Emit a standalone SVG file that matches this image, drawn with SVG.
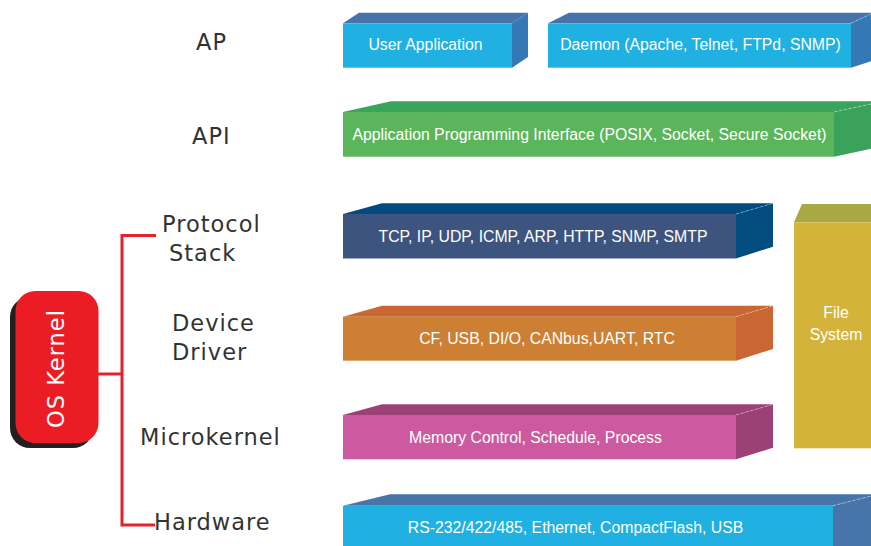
<svg xmlns="http://www.w3.org/2000/svg" width="871" height="546" viewBox="0 0 871 546">
<style>
.lbl{font-family:"DejaVu Sans",sans-serif;font-size:22.5px;letter-spacing:1px;fill:#333333}
.bt{font-family:"Liberation Sans",Arial,sans-serif;font-size:15.8px;fill:#ffffff;text-anchor:middle}
.dash{stroke:#ffffff;stroke-opacity:0.45;stroke-width:0.8;stroke-dasharray:3 2;fill:none}
.conn{stroke:#E52129;stroke-width:3;fill:none}
</style>
<rect width="871" height="546" fill="#ffffff"/>

<!-- left labels -->
<g id="label-ap"><text class="lbl" x="196" y="50">AP</text></g>
<g id="label-api"><text class="lbl" x="192" y="144">API</text></g>
<g id="label-protocol"><text class="lbl" x="162" y="232">Protocol</text><text class="lbl" x="169" y="260.5">Stack</text></g>
<g id="label-device"><text class="lbl" x="172" y="331">Device</text><text class="lbl" x="172" y="359.5">Driver</text></g>
<g id="label-microkernel"><text class="lbl" x="140" y="445">Microkernel</text></g>
<g id="label-hardware"><text class="lbl" x="154" y="530">Hardware</text></g>

<!-- OS Kernel -->
<g id="os-kernel">
<rect x="10" y="297" width="83" height="151" rx="20" fill="#231F20"/>
<rect x="15.5" y="291" width="83" height="152" rx="20" fill="#EC1C24"/>
<text x="64" y="368.5" transform="rotate(-90 64 368.5)" text-anchor="middle" style="font-family:'DejaVu Sans',sans-serif;font-size:22.5px;letter-spacing:1px;fill:#ffffff">OS Kernel</text>
</g>

<!-- connectors -->
<g id="connectors">
<polyline class="conn" points="156,235.5 122,235.5 122,525 155,525"/>
<line class="conn" x1="98" y1="374" x2="122" y2="374"/>
</g>

<!-- User Application -->
<g id="user-application">
<polygon points="343,23.3 359,12.7 528,12.7 512,23.3" fill="#4673A8"/>
<polygon points="512,23.3 528,12.7 528,57 512,67.7" fill="#3479B5"/>
<rect x="343" y="23.3" width="169" height="44.4" fill="#20B0E2"/>
<text class="bt" x="425.5" y="50">User Application</text>
</g>

<!-- Daemon -->
<g id="daemon">
<polygon points="548,23.3 569,12.7 875,12.7 875,12 851,23.3" fill="#4673A8"/>
<polygon points="851,23.3 875,12 875,60 851,67.7" fill="#3479B5"/>
<line class="dash" x1="851" y1="23.3" x2="875" y2="12"/>
<rect x="548" y="23.3" width="303" height="44.4" fill="#20B0E2"/>
<text class="bt" x="700.5" y="50">Daemon (Apache, Telnet, FTPd, SNMP)</text>
</g>

<!-- API -->
<g id="api">
<polygon points="343,112 391,101.3 875,101.3 875,103 834,112" fill="#38A55A"/>
<polygon points="834,112 875,103 875,148 834,156.7" fill="#3AA25A"/>
<line class="dash" x1="834" y1="112" x2="875" y2="103"/>
<rect x="343" y="112" width="491" height="44.7" fill="#5BB55B"/>
<text class="bt" x="589.5" y="140">Application Programming Interface (POSIX, Socket, Secure Socket)</text>
</g>

<!-- Protocol stack -->
<g id="tcp-ip">
<polygon points="343,214 382,203.3 773,203.3 736,214" fill="#014B80"/>
<polygon points="736,214 773,203.3 773,246.7 736,258.5" fill="#024C80"/>
<line class="dash" x1="736" y1="214" x2="773" y2="203.3"/>
<rect x="343" y="214" width="393" height="44.5" fill="#3D547F"/>
<text class="bt" x="543" y="242">TCP, IP, UDP, ICMP, ARP, HTTP, SNMP, SMTP</text>
</g>

<!-- Device driver -->
<g id="device-driver">
<polygon points="343,316.7 382,305.7 773,305.7 736,316.7" fill="#C96632"/>
<polygon points="736,316.7 773,305.7 773,349 736,360.7" fill="#C96632"/>
<line class="dash" x1="736" y1="316.7" x2="773" y2="305.7"/>
<rect x="343" y="316.7" width="393" height="44" fill="#CD8034"/>
<text class="bt" x="547" y="344">CF, USB, DI/O, CANbus,UART, RTC</text>
</g>

<!-- Microkernel -->
<g id="memory-control">
<polygon points="343,415 382,404.3 773,404.3 736,415" fill="#9C4177"/>
<polygon points="736,415 773,404.3 773,447.7 736,459.3" fill="#9C4177"/>
<line class="dash" x1="736" y1="415" x2="773" y2="404.3"/>
<rect x="343" y="415" width="393" height="44.3" fill="#CD5AA0"/>
<text class="bt" x="535.5" y="443">Memory Control, Schedule, Process</text>
</g>

<!-- Hardware -->
<g id="hardware">
<polygon points="343,505.7 390,494.3 875,494.3 875,495 833,505.7" fill="#4775A9"/>
<polygon points="833,505.7 875,495 875,560 833,560" fill="#4775A9"/>
<line class="dash" x1="833" y1="505.7" x2="875" y2="495"/>
<rect x="343" y="505.7" width="490" height="50" fill="#20B0E2"/>
<text class="bt" x="575.5" y="533">RS-232/422/485, Ethernet, CompactFlash, USB</text>
</g>

<!-- File System -->
<g id="file-system">
<polygon points="794,222.3 802,204 875,204 875,222.3" fill="#A9A944"/>
<rect x="794" y="222.3" width="81" height="226" fill="#D3B33A"/>
<text class="bt" x="836" y="318">File</text>
<text class="bt" x="836" y="340">System</text>
</g>
</svg>
